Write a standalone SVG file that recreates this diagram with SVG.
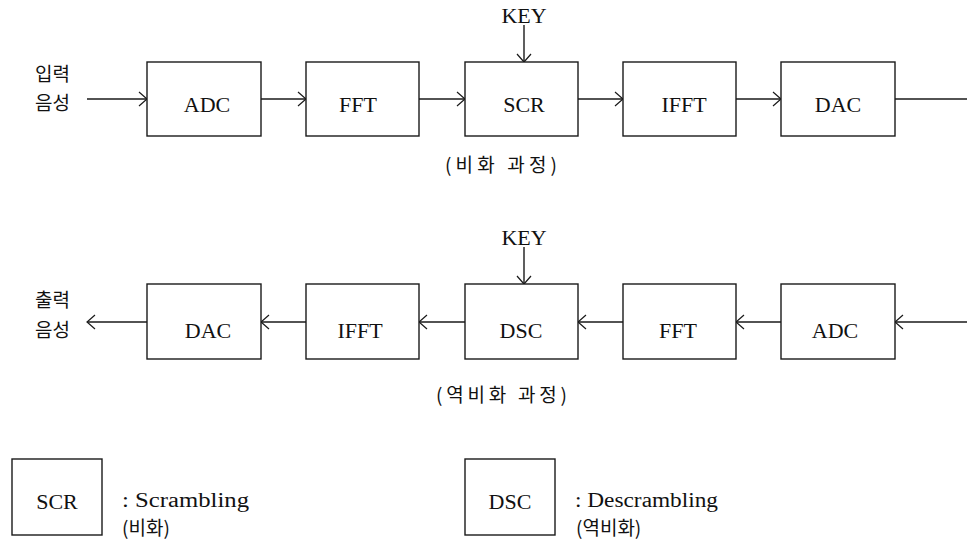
<svg xmlns="http://www.w3.org/2000/svg" width="967" height="540" viewBox="0 0 967 540">
<style>
.box{fill:#fff;stroke:#1a1a1a;stroke-width:1.4}
.lat{font-family:"Liberation Serif","Times New Roman",serif;font-size:22px;fill:#111;text-anchor:middle}
.ko{font-family:"Noto Sans CJK KR","Noto Sans",sans-serif;font-size:19px;fill:#111}
.leg{font-family:"Liberation Serif","Times New Roman",serif;font-size:20px;fill:#111}
.ln{stroke:#1a1a1a;stroke-width:1.4;fill:none}
</style>
<defs>
<marker id="ah" markerUnits="userSpaceOnUse" markerWidth="20" markerHeight="20" viewBox="-10 -10 20 20" refX="0" refY="0" orient="auto">
<path d="M-8,-7 L0,0 L-8,7" fill="none" stroke="#1a1a1a" stroke-width="1.2"/>
</marker>
</defs>

<g id="connectors">
<line class="ln" x1="87" y1="99" x2="147" y2="99" marker-end="url(#ah)"/>
<line class="ln" x1="261" y1="99" x2="306" y2="99" marker-end="url(#ah)"/>
<line class="ln" x1="419" y1="99" x2="465" y2="99" marker-end="url(#ah)"/>
<line class="ln" x1="578" y1="99" x2="623" y2="99" marker-end="url(#ah)"/>
<line class="ln" x1="736" y1="99" x2="781" y2="99" marker-end="url(#ah)"/>
<line class="ln" x1="895" y1="99" x2="967" y2="99"/>
<line class="ln" x1="524" y1="25" x2="524" y2="62" marker-end="url(#ah)"/>
<line class="ln" x1="967" y1="322" x2="895" y2="322" marker-end="url(#ah)"/>
<line class="ln" x1="781" y1="322" x2="736" y2="322" marker-end="url(#ah)"/>
<line class="ln" x1="623" y1="322" x2="578" y2="322" marker-end="url(#ah)"/>
<line class="ln" x1="465" y1="322" x2="419" y2="322" marker-end="url(#ah)"/>
<line class="ln" x1="306" y1="322" x2="261" y2="322" marker-end="url(#ah)"/>
<line class="ln" x1="147" y1="322" x2="87" y2="322" marker-end="url(#ah)"/>
<line class="ln" x1="524" y1="247" x2="524" y2="284" marker-end="url(#ah)"/>
</g>

<g id="in-label"><text class="ko" x="35" y="81">입력</text><text class="ko" x="35" y="110">음성</text></g>
<g id="key1"><text class="lat" x="524" y="23">KEY</text></g>
<g id="adc1"><rect class="box" x="147" y="62" width="114" height="74"/><text class="lat" x="207" y="112">ADC</text></g>
<g id="fft1"><rect class="box" x="306" y="62" width="113" height="74"/><text class="lat" x="358" y="112">FFT</text></g>
<g id="scr1"><rect class="box" x="465" y="62" width="113" height="74"/><text class="lat" x="524" y="112">SCR</text></g>
<g id="ifft1"><rect class="box" x="623" y="62" width="113" height="74"/><text class="lat" x="684" y="112">IFFT</text></g>
<g id="dac1"><rect class="box" x="781" y="62" width="114" height="74"/><text class="lat" x="838" y="112">DAC</text></g>
<g id="cap1"><text class="ko" x="445" y="172" font-size="20" textLength="112" lengthAdjust="spacing">(비화 과정)</text></g>

<g id="out-label"><text class="ko" x="35" y="307">출력</text><text class="ko" x="35" y="337">음성</text></g>
<g id="key2"><text class="lat" x="524" y="245">KEY</text></g>
<g id="dac2"><rect class="box" x="147" y="284" width="114" height="75"/><text class="lat" x="208" y="338">DAC</text></g>
<g id="ifft2"><rect class="box" x="306" y="284" width="113" height="75"/><text class="lat" x="360" y="338">IFFT</text></g>
<g id="dsc2"><rect class="box" x="465" y="284" width="113" height="75"/><text class="lat" x="521" y="338">DSC</text></g>
<g id="fft2"><rect class="box" x="623" y="284" width="113" height="75"/><text class="lat" x="678" y="338">FFT</text></g>
<g id="adc2"><rect class="box" x="781" y="284" width="114" height="75"/><text class="lat" x="835" y="338">ADC</text></g>
<g id="cap2"><text class="ko" x="436" y="402" font-size="20" textLength="131" lengthAdjust="spacing">(역비화 과정)</text></g>

<g id="legend-scr">
<rect class="box" x="12" y="459" width="90" height="76"/>
<text class="lat" x="57" y="509" font-size="20">SCR</text>
<text class="leg" x="122" y="507" textLength="127" lengthAdjust="spacingAndGlyphs">: Scrambling</text>
<text class="ko" x="122" y="535" font-size="16">(비화)</text>
</g>
<g id="legend-dsc">
<rect class="box" x="465" y="459" width="90" height="76"/>
<text class="lat" x="510" y="509" font-size="20">DSC</text>
<text class="leg" x="575" y="507" textLength="143" lengthAdjust="spacingAndGlyphs">: Descrambling</text>
<text class="ko" x="576" y="535" font-size="16">(역비화)</text>
</g>
</svg>
